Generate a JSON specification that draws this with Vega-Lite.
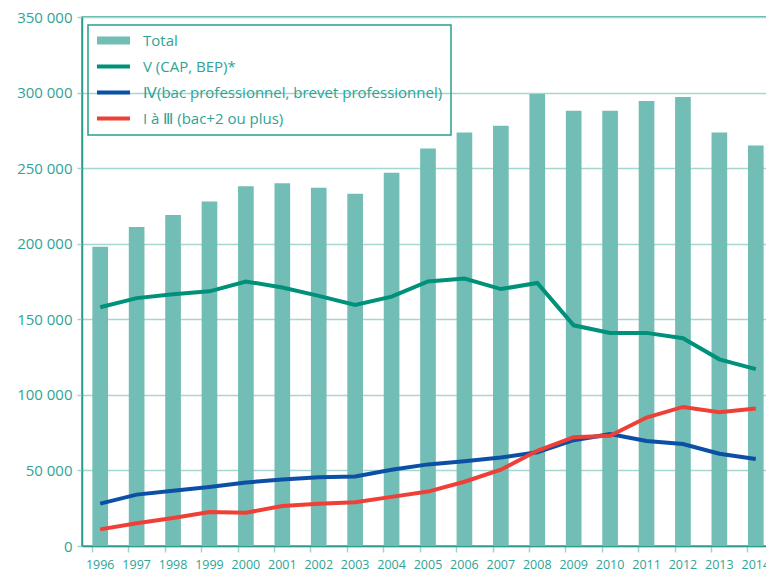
{
  "$schema": "https://vega.github.io/schema/vega-lite/v6.json",
  "autosize": {"type": "none"},
  "padding": {"left": 82, "top": 17, "right": 0, "bottom": 27},
  "width": 692,
  "height": 529,
  "config": {
    "view": {"stroke": "#2a9d8f", "strokeWidth": 1.5},
    "font": "Open Sans"
  },
  "data": {"values": [
    {"year": "1996", "series": "Total", "value": 198000},
    {"year": "1997", "series": "Total", "value": 211000},
    {"year": "1998", "series": "Total", "value": 219000},
    {"year": "1999", "series": "Total", "value": 228000},
    {"year": "2000", "series": "Total", "value": 238000},
    {"year": "2001", "series": "Total", "value": 240000},
    {"year": "2002", "series": "Total", "value": 237000},
    {"year": "2003", "series": "Total", "value": 233000},
    {"year": "2004", "series": "Total", "value": 247000},
    {"year": "2005", "series": "Total", "value": 263000},
    {"year": "2006", "series": "Total", "value": 273500},
    {"year": "2007", "series": "Total", "value": 278000},
    {"year": "2008", "series": "Total", "value": 299000},
    {"year": "2009", "series": "Total", "value": 288000},
    {"year": "2010", "series": "Total", "value": 288000},
    {"year": "2011", "series": "Total", "value": 294500},
    {"year": "2012", "series": "Total", "value": 297000},
    {"year": "2013", "series": "Total", "value": 273500},
    {"year": "2014", "series": "Total", "value": 265000},
    {"year": "1996", "series": "V (CAP, BEP)*", "value": 158000},
    {"year": "1997", "series": "V (CAP, BEP)*", "value": 164000},
    {"year": "1998", "series": "V (CAP, BEP)*", "value": 166500},
    {"year": "1999", "series": "V (CAP, BEP)*", "value": 168500},
    {"year": "2000", "series": "V (CAP, BEP)*", "value": 175000},
    {"year": "2001", "series": "V (CAP, BEP)*", "value": 171000},
    {"year": "2002", "series": "V (CAP, BEP)*", "value": 165500},
    {"year": "2003", "series": "V (CAP, BEP)*", "value": 159500},
    {"year": "2004", "series": "V (CAP, BEP)*", "value": 165000},
    {"year": "2005", "series": "V (CAP, BEP)*", "value": 175000},
    {"year": "2006", "series": "V (CAP, BEP)*", "value": 177000},
    {"year": "2007", "series": "V (CAP, BEP)*", "value": 170000},
    {"year": "2008", "series": "V (CAP, BEP)*", "value": 174000},
    {"year": "2009", "series": "V (CAP, BEP)*", "value": 146000},
    {"year": "2010", "series": "V (CAP, BEP)*", "value": 141000},
    {"year": "2011", "series": "V (CAP, BEP)*", "value": 141000},
    {"year": "2012", "series": "V (CAP, BEP)*", "value": 137500},
    {"year": "2013", "series": "V (CAP, BEP)*", "value": 123500},
    {"year": "2014", "series": "V (CAP, BEP)*", "value": 117000},
    {"year": "1996", "series": "Ⅳ(bac professionnel, brevet professionnel)", "value": 28000},
    {"year": "1997", "series": "Ⅳ(bac professionnel, brevet professionnel)", "value": 34000},
    {"year": "1998", "series": "Ⅳ(bac professionnel, brevet professionnel)", "value": 36500},
    {"year": "1999", "series": "Ⅳ(bac professionnel, brevet professionnel)", "value": 39000},
    {"year": "2000", "series": "Ⅳ(bac professionnel, brevet professionnel)", "value": 42000},
    {"year": "2001", "series": "Ⅳ(bac professionnel, brevet professionnel)", "value": 44000},
    {"year": "2002", "series": "Ⅳ(bac professionnel, brevet professionnel)", "value": 45500},
    {"year": "2003", "series": "Ⅳ(bac professionnel, brevet professionnel)", "value": 46000},
    {"year": "2004", "series": "Ⅳ(bac professionnel, brevet professionnel)", "value": 50500},
    {"year": "2005", "series": "Ⅳ(bac professionnel, brevet professionnel)", "value": 54000},
    {"year": "2006", "series": "Ⅳ(bac professionnel, brevet professionnel)", "value": 56000},
    {"year": "2007", "series": "Ⅳ(bac professionnel, brevet professionnel)", "value": 58500},
    {"year": "2008", "series": "Ⅳ(bac professionnel, brevet professionnel)", "value": 62000},
    {"year": "2009", "series": "Ⅳ(bac professionnel, brevet professionnel)", "value": 70000},
    {"year": "2010", "series": "Ⅳ(bac professionnel, brevet professionnel)", "value": 74000},
    {"year": "2011", "series": "Ⅳ(bac professionnel, brevet professionnel)", "value": 69500},
    {"year": "2012", "series": "Ⅳ(bac professionnel, brevet professionnel)", "value": 67500},
    {"year": "2013", "series": "Ⅳ(bac professionnel, brevet professionnel)", "value": 61000},
    {"year": "2014", "series": "Ⅳ(bac professionnel, brevet professionnel)", "value": 57500},
    {"year": "1996", "series": "I à Ⅲ (bac+2 ou plus)", "value": 11000},
    {"year": "1997", "series": "I à Ⅲ (bac+2 ou plus)", "value": 15000},
    {"year": "1998", "series": "I à Ⅲ (bac+2 ou plus)", "value": 18500},
    {"year": "1999", "series": "I à Ⅲ (bac+2 ou plus)", "value": 22500},
    {"year": "2000", "series": "I à Ⅲ (bac+2 ou plus)", "value": 22000},
    {"year": "2001", "series": "I à Ⅲ (bac+2 ou plus)", "value": 26500},
    {"year": "2002", "series": "I à Ⅲ (bac+2 ou plus)", "value": 28000},
    {"year": "2003", "series": "I à Ⅲ (bac+2 ou plus)", "value": 29000},
    {"year": "2004", "series": "I à Ⅲ (bac+2 ou plus)", "value": 32500},
    {"year": "2005", "series": "I à Ⅲ (bac+2 ou plus)", "value": 36000},
    {"year": "2006", "series": "I à Ⅲ (bac+2 ou plus)", "value": 42500},
    {"year": "2007", "series": "I à Ⅲ (bac+2 ou plus)", "value": 50500},
    {"year": "2008", "series": "I à Ⅲ (bac+2 ou plus)", "value": 63000},
    {"year": "2009", "series": "I à Ⅲ (bac+2 ou plus)", "value": 72000},
    {"year": "2010", "series": "I à Ⅲ (bac+2 ou plus)", "value": 73000},
    {"year": "2011", "series": "I à Ⅲ (bac+2 ou plus)", "value": 85000},
    {"year": "2012", "series": "I à Ⅲ (bac+2 ou plus)", "value": 92000},
    {"year": "2013", "series": "I à Ⅲ (bac+2 ou plus)", "value": 88500},
    {"year": "2014", "series": "I à Ⅲ (bac+2 ou plus)", "value": 91000}
  ]},
  "encoding": {
    "x": {
      "field": "year", "type": "ordinal",
      "scale": {"paddingInner": 0.57, "paddingOuter": 0.285, "align": 0.5},
      "axis": {
        "title": null, "labelAngle": 0, "bandPosition": 0,
        "domainColor": "#2a9d8f", "domainWidth": 1.5,
        "tickColor": "#9fd3cc", "tickWidth": 1.5, "tickSize": 6,
        "labelFont": "Open Sans", "labelFontSize": 12.5, "labelColor": "#2fa395",
        "labelPadding": 6
      }
    },
    "y": {
      "field": "value", "type": "quantitative",
      "scale": {"domain": [0, 350000], "nice": false},
      "axis": {
        "title": null, "values": [0, 50000, 100000, 150000, 200000, 250000, 300000, 350000],
        "labelExpr": "replace(format(datum.value, ','), ',', ' ')",
        "grid": true, "gridColor": "#a5d6cf", "gridWidth": 1.5,
        "domainColor": "#2a9d8f", "domainWidth": 1.5,
        "tickColor": "#9fd3cc", "tickWidth": 1.5, "tickSize": 5,
        "labelFont": "Open Sans", "labelFontSize": 15, "labelColor": "#2fa395",
        "labelPadding": 5
      }
    },
    "color": {
      "field": "series", "type": "nominal",
      "scale": {
        "domain": ["Total", "V (CAP, BEP)*", "Ⅳ(bac professionnel, brevet professionnel)", "I à Ⅲ (bac+2 ou plus)"],
        "range": ["#72bdb5", "#00917a", "#0b50a6", "#ee4036"]
      },
      "legend": {
        "title": null, "orient": "none", "legendX": 6, "legendY": 8,
        "strokeColor": "#2a9d8f", "padding": 8,
        "symbolType": "stroke", "symbolSize": 100, "symbolStrokeWidth": 4,
        "labelFont": "Open Sans", "labelFontSize": 15, "labelColor": "#2fa395",
        "labelOffset": 13, "rowPadding": 9, "labelLimit": 400,
        "encode": {
          "legend": {"update": {"strokeWidth": {"value": 1.5}}},
          "symbols": {
            "update": {
              "x": {"value": 17.5},
              "shape": {"signal": "datum.label === 'Total' ? 'M-3.3,-0.8H3.3V0.8H-3.3Z' : 'M-3.3,0H3.3'"},
              "fill": {"signal": "datum.label === 'Total' ? '#72bdb5' : 'transparent'"},
              "stroke": {"signal": "datum.label === 'Total' ? 'transparent' : scale('color', datum.value)"},
              "strokeWidth": {"signal": "datum.label === 'Total' ? 0 : 4"},
              "opacity": {"value": 1}
            }
          },
          "labels": {"update": {"x": {"value": 47}}}
        }
      }
    }
  },
  "layer": [
    {
      "transform": [{"filter": "datum.series === 'Total'"}],
      "mark": {"type": "bar", "opacity": 1}
    },
    {
      "transform": [{"filter": "datum.series !== 'Total'"}],
      "mark": {"type": "line", "strokeWidth": 4}
    }
  ]
}
